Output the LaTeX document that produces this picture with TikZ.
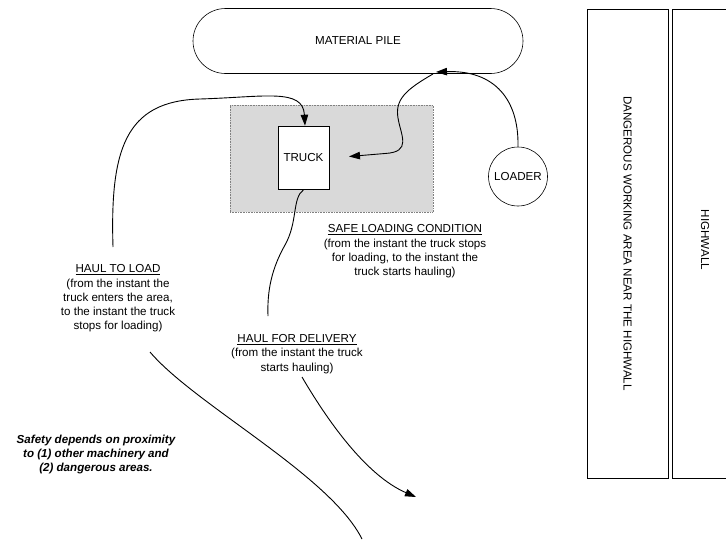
\documentclass[tikz,border=0pt]{standalone}
\usepackage{fontspec}
\setmainfont{Liberation Sans}
\usetikzlibrary{arrows.meta,shapes.misc}
\definecolor{areagray}{RGB}{217,217,217}
\definecolor{dotgray}{RGB}{128,128,128}
\begin{document}
\begin{tikzpicture}[x=1pt,y=-1pt,
  every node/.style={font=\fontsize{11.6}{14.3}\selectfont, inner sep=0pt},
  conn/.style={line width=0.9pt},
  arr/.style={conn,-{Triangle[length=11pt,width=7.5pt]}},
  box/.style={draw,line width=0.6pt},
  lbl/.style={align=center}]
\useasboundingbox (0,0) rectangle (726,539);
% material pile
\node[box, rounded rectangle, minimum width=330pt, minimum height=65pt] (pile) at (358,41) {MATERIAL PILE};
% safe loading area
\node[fill=areagray, draw=dotgray, densely dotted, line width=0.6pt, minimum width=203pt, minimum height=107pt] (area) at (331.5,158.5) {};
% truck
\node[box, fill=white, minimum width=51pt, minimum height=63pt] (truck) at (303.5,157.5) {TRUCK};
% loader
\node[box, circle, minimum size=59pt] (loader) at (518,176.5) {LOADER};
% dangerous area
\node[box, minimum width=81pt, minimum height=469pt] (danger) at (627.5,243.5) {};
\node[rotate=-90] (dangertxt) at (danger.center) {DANGEROUS WORKING AREA NEAR THE HIGHWALL};
% highwall (extends beyond the right edge)
\draw[line width=0.6pt] (730,9) -- (672,9) -- (672,478) -- (730,478);
\node[rotate=-90] (highwall) at (705,240) {HIGHWALL};
% labels
\node[lbl] (haulload) at (118,298.5) {\underline{HAUL TO LOAD}\\(from the instant the\\truck enters the area,\\to the instant the truck\\stops for loading)};
\node[lbl] (safe) at (405,251.5) {\underline{SAFE LOADING CONDITION}\\(from the instant the truck stops\\for loading, to the instant the\\truck starts hauling)};
\node[lbl] (hauldel) at (297,354) {\underline{HAUL FOR DELIVERY}\\(from the instant the truck\\starts hauling)};
\node[lbl, font=\fontsize{11.6}{14}\selectfont\bfseries\itshape] (safety) at (96,454) {Safety depends on proximity\\to (1) other machinery and\\(2) dangerous areas.};
% connectors
\coordinate (hlstart) at (113,247);
\draw[arr] (hlstart) .. controls (110,150) and (125,101) .. (200,99)
  .. controls (265,97) and (303,88) .. ([xshift=1.5pt]truck.north);
\coordinate (pilein) at (436,72);
\draw[arr] (loader.north) .. controls (519,100) and (495,70) .. (pilein);
\coordinate (pileout) at (433,74);
\coordinate (areapt) at (349,156.5);
\draw[arr] (pileout) .. controls (405,90) and (395,100) .. (398,118)
  .. controls (401,136) and (412,152) .. (385,153.5) -- (areapt);
\coordinate (hdtop) at (268,316);
\draw[conn] ([yshift=-0.5pt]truck.south) .. controls (292,198) and (298,222) .. (285,245)
  .. controls (272,268) and (267,290) .. (hdtop);
\coordinate (hdbot) at (302,377);
\coordinate (deltip) at (416,497);
\draw[arr] (hdbot) .. controls (326,418) and (365,475) .. (deltip);
\coordinate (hlbot) at (150,352);
\coordinate (exitpt) at (362,539);
\draw[conn] (hlbot) .. controls (195,405) and (330,475) .. (exitpt);
\end{tikzpicture}
\end{document}
